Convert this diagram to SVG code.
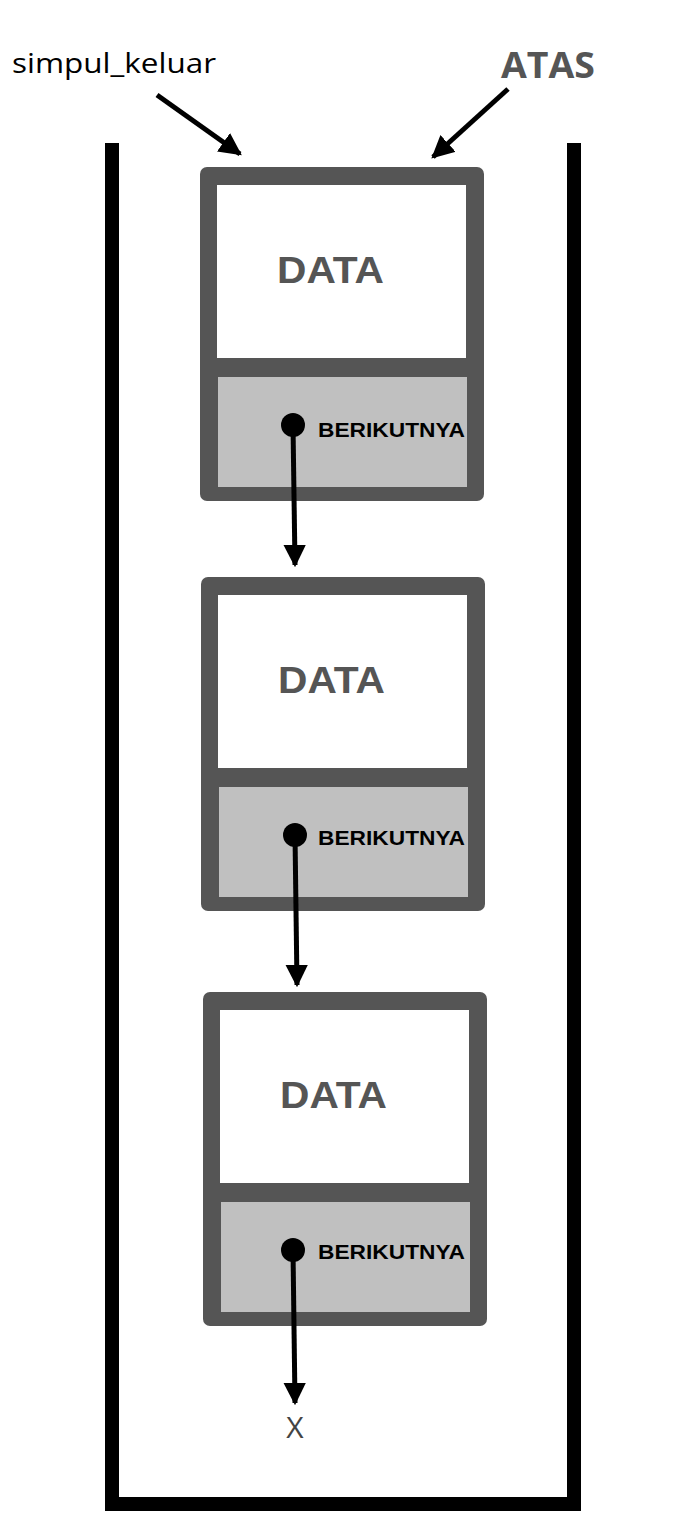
<svg xmlns="http://www.w3.org/2000/svg" width="688" height="1536" viewBox="0 0 688 1536">
<defs>
<style>
.outer{fill:#555}
.data{fill:#fff}
.next{fill:#c0c0c0}
.dt{font-family:"Liberation Sans",Arial,sans-serif;font-weight:bold;font-size:36px;fill:#555}
.bt{font-family:"Liberation Sans",Arial,sans-serif;font-weight:bold;font-size:20px;fill:#000}
.ln{stroke:#000;stroke-width:5;fill:none}
</style>
<marker id="ah" viewBox="0 0 10 10" refX="9" refY="5" markerWidth="4.5" markerHeight="4.5" orient="auto"><path d="M0,0L10,5L0,10z" fill="#000"/></marker>
</defs>
<rect width="688" height="1536" fill="#fff"/>
<g id="container"><path d="M112,143V1504H574V143" stroke="#000" stroke-width="14" fill="none"/></g>
<g id="labels">
<text x="12" y="73" font-family="Open Sans,sans-serif" font-size="28" fill="#000" textLength="204" lengthAdjust="spacingAndGlyphs">simpul_keluar</text>
<text x="501" y="78" font-family="Open Sans,sans-serif" font-weight="bold" font-size="36" fill="#555" textLength="94" lengthAdjust="spacingAndGlyphs">ATAS</text>
</g>
<g id="node1" transform="translate(200,167)">
<rect class="outer" width="284" height="334" rx="7"/><rect class="data" x="17" y="18" width="249" height="173"/><rect class="next" x="18" y="210" width="249" height="110"/>
<text class="dt" x="77" y="116" textLength="107" lengthAdjust="spacingAndGlyphs">DATA</text><text class="bt" x="118" y="270" textLength="147" lengthAdjust="spacingAndGlyphs">BERIKUTNYA</text></g>
<g id="node2" transform="translate(201,577)">
<rect class="outer" width="284" height="334" rx="7"/><rect class="data" x="17" y="18" width="249" height="173"/><rect class="next" x="18" y="210" width="249" height="110"/>
<text class="dt" x="77" y="116" textLength="107" lengthAdjust="spacingAndGlyphs">DATA</text><text class="bt" x="117" y="268" textLength="147" lengthAdjust="spacingAndGlyphs">BERIKUTNYA</text></g>
<g id="node3" transform="translate(203,992)">
<rect class="outer" width="284" height="334" rx="7"/><rect class="data" x="17" y="18" width="249" height="173"/><rect class="next" x="18" y="210" width="249" height="110"/>
<text class="dt" x="77" y="116" textLength="107" lengthAdjust="spacingAndGlyphs">DATA</text><text class="bt" x="115" y="267" textLength="147" lengthAdjust="spacingAndGlyphs">BERIKUTNYA</text></g>
<text x="295" y="1438" font-family="Open Sans,sans-serif" font-size="30" fill="#444" text-anchor="middle">X</text>
<g id="connectors">
<line class="ln" x1="157" y1="95" x2="240" y2="154" marker-end="url(#ah)"/>
<line class="ln" x1="508" y1="89" x2="433" y2="157" marker-end="url(#ah)"/>
<circle cx="293" cy="425" r="12"/><line class="ln" x1="293" y1="425" x2="295" y2="565" marker-end="url(#ah)"/>
<circle cx="295" cy="835" r="12"/><line class="ln" x1="295" y1="835" x2="297" y2="985" marker-end="url(#ah)"/>
<circle cx="293" cy="1250" r="12"/><line class="ln" x1="293" y1="1250" x2="295" y2="1403" marker-end="url(#ah)"/>
</g>
</svg>
